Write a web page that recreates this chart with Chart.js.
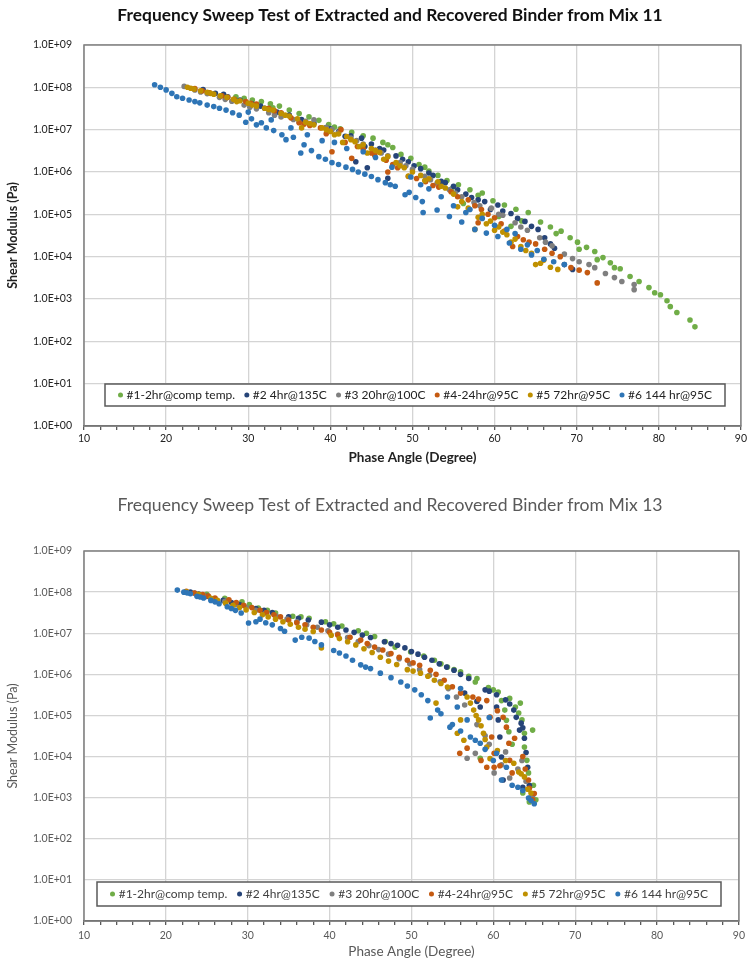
<!DOCTYPE html>
<html>
<head>
<meta charset="utf-8">
<title>Frequency Sweep Test</title>
<script src="https://cdn.jsdelivr.net/npm/chart.js@4.4.0/dist/chart.umd.min.js"></script>
<style>
  body { margin: 0; background: #fff; }
  .wrap { position: absolute; left: 0; width: 749px; }
  #wrap11 { top: 0; height: 475px; }
  #wrap13 { top: 480px; height: 484px; }
</style>
</head>
<body>
<div class="wrap" id="wrap11"><canvas id="mix11Chart" width="749" height="475"></canvas></div>
<div class="wrap" id="wrap13"><canvas id="mix13Chart" width="749" height="484"></canvas></div>
<script>
// Series names (same for both mixes)
const seriesLabels = ['#1-2hr@comp temp.', '#2 4hr@135C', '#3 20hr@100C', '#4-24hr@95C', '#5 72hr@95C', '#6 144 hr@95C'];

// Axis ticks
const yTicks = [1e0, 1e1, 1e2, 1e3, 1e4, 1e5, 1e6, 1e7, 1e8, 1e9];
const yTickLabels = ['1.0E+00', '1.0E+01', '1.0E+02', '1.0E+03', '1.0E+04', '1.0E+05', '1.0E+06', '1.0E+07', '1.0E+08', '1.0E+09'];
const xMajorTicks = [10, 20, 30, 40, 50, 60, 70, 80, 90];

// ---- Mix 11: phase angle (deg) / shear modulus (Pa) ----
const mix11_s1_x = [28.5, 29.5, 30.5, 31.6, 32.7, 33.8, 35.0, 36.2, 37.4, 38.6, 39.8, 41.2, 42.6, 44.0, 45.2, 46.4, 47.6, 48.6, 49.8, 50.8, 52.0, 53.1, 54.2, 55.6, 56.2, 57.0, 58.5, 59.8, 60.5, 61.2, 62.0, 62.6, 64.1, 65.6, 66.8, 68.1, 69.2, 70.1, 70.3, 71.2, 72.2, 72.5, 73.2, 74.1, 74.6, 75.3, 76.5, 77.6, 78.8, 79.5, 80.2, 81.0, 81.4, 82.2, 83.8, 84.4, 33.0, 40.5, 47.0, 51.5, 54.8, 58.0, 63.3, 67.5];
const mix11_s1_y = [6.0e7, 5.5e7, 5.0e7, 4.6e7, 4.1e7, 3.6e7, 2.9e7, 2.4e7, 2.0e7, 1.66e7, 1.32e7, 1.05e7, 8.7e6, 7.2e6, 6.3e6, 5.0e6, 3.8e6, 2.6e6, 2.1e6, 1.5e6, 1.05e6, 8.3e5, 6.3e5, 5.0e5, 1.8e5, 3.8e5, 3.2e5, 2.1e5, 8.9e4, 1.66e5, 5.2e4, 1.32e5, 1.1e5, 6.6e4, 5.0e4, 4.0e4, 2.8e4, 2.2e4, 1.5e4, 1.66e4, 1.32e4, 8.5e3, 9.5e3, 7.2e3, 5.5e3, 5.2e3, 3.4e3, 2.6e3, 1.86e3, 1.4e3, 1.26e3, 9.1e2, 6.6e2, 4.8e2, 3.2e2, 2.2e2, 3.3e7, 1.15e7, 4.4e6, 1.3e6, 4.0e5, 2.8e5, 7.0e4, 3.5e4];

const mix11_s2_x = [24.5, 26.0, 27.5, 29.0, 30.5, 32.0, 33.5, 35.0, 36.5, 38.0, 39.5, 41.0, 42.5, 43.8, 45.0, 46.5, 48.0, 49.5, 51.0, 52.5, 54.0, 55.5, 57.2, 58.8, 60.4, 62.0, 63.7, 65.3, 66.1, 67.3, 68.5, 69.5, 43.1, 44.5, 47.0, 27.0, 31.5, 34.0, 37.0, 40.0, 41.8, 44.2, 46.0, 48.8, 50.2, 52.0, 53.5, 55.0, 56.5, 58.0, 59.5, 61.0, 62.8, 64.5, 66.8];
const mix11_s2_y = [8.9e7, 7.2e7, 6.0e7, 5.0e7, 4.0e7, 3.2e7, 2.6e7, 2.2e7, 1.74e7, 1.41e7, 1.12e7, 8.9e6, 7.2e6, 6.3e6, 4.6e6, 3.3e6, 2.4e6, 1.74e6, 1.2e6, 8.3e5, 5.6e5, 3.8e5, 2.5e5, 2.0e5, 1.66e5, 1.05e5, 6.8e4, 4.4e4, 2.8e4, 1.58e4, 6.5e3, 5.0e3, 1.74e6, 1.26e6, 7.1e5, 6.8e7, 3.6e7, 2.4e7, 1.5e7, 1.05e7, 7.0e6, 4.0e6, 3.6e6, 2.0e6, 1.4e6, 9.5e5, 6.0e5, 4.6e5, 3.0e5, 2.2e5, 1.3e5, 1.2e5, 8.0e4, 5.2e4, 2.0e4];

const mix11_s3_x = [22.2, 23.5, 25.0, 26.5, 28.0, 29.5, 31.0, 32.5, 34.0, 35.5, 37.0, 38.0, 39.5, 41.0, 42.5, 44.0, 45.5, 47.0, 48.5, 50.0, 51.5, 53.0, 54.5, 56.0, 57.5, 59.6, 61.0, 62.5, 64.0, 65.5, 67.0, 68.5, 70.3, 72.2, 73.5, 74.6, 77.0, 77.0, 24.2, 27.2, 30.2, 33.2, 36.2, 40.2, 43.2, 46.2, 49.2, 52.2, 55.2, 58.2, 60.5, 63.2, 66.2, 69.5, 71.5, 75.5];
const mix11_s3_y = [1.05e8, 8.7e7, 7.1e7, 5.8e7, 4.7e7, 3.8e7, 3.1e7, 2.5e7, 2.0e7, 1.74e7, 1.58e7, 1.7e7, 1.12e7, 8.5e6, 6.3e6, 4.6e6, 3.3e6, 2.4e6, 1.66e6, 1.15e6, 7.9e5, 5.5e5, 3.8e5, 2.6e5, 1.9e5, 1.4e5, 9.5e4, 6.3e4, 4.2e4, 2.8e4, 1.8e4, 1.15e4, 7.6e3, 5.5e3, 4.0e3, 3.2e3, 2.2e3, 1.66e3, 7.8e7, 5.2e7, 3.4e7, 2.2e7, 1.5e7, 1.0e7, 5.5e6, 2.8e6, 1.4e6, 6.6e5, 3.2e5, 1.6e5, 1.0e5, 5.0e4, 2.2e4, 9.0e3, 6.5e3, 2.6e3];

const mix11_s4_x = [23.5, 25.3, 26.8, 28.3, 29.7, 31.0, 32.5, 34.0, 35.2, 36.2, 37.5, 38.8, 40.2, 41.3, 42.6, 44.0, 45.4, 46.8, 48.2, 49.5, 51.6, 53.2, 54.7, 56.8, 58.4, 60.0, 61.2, 62.2, 63.5, 65.0, 66.1, 68.0, 69.3, 71.3, 72.5, 47.0, 58.0, 24.4, 27.5, 30.3, 33.2, 36.8, 39.5, 41.8, 43.3, 45.0, 47.6, 50.5, 52.5, 55.5, 57.6, 59.2, 60.8, 62.8, 64.2, 67.0, 70.3];
const mix11_s4_y = [9.3e7, 7.4e7, 6.3e7, 5.2e7, 4.6e7, 4.0e7, 3.2e7, 2.5e7, 1.9e7, 1.45e7, 1.26e7, 1.1e7, 3.0e6, 1.0e7, 2.1e6, 3.5e6, 2.5e6, 1.9e6, 1.26e6, 7.8e5, 5.9e5, 4.4e5, 3.4e5, 2.2e5, 1.3e5, 8.3e4, 4.0e4, 1.74e4, 2.5e4, 2.0e4, 1.5e4, 1.0e4, 5.5e3, 4.2e3, 2.4e3, 1.0e6, 6.3e4, 8.3e7, 5.8e7, 4.2e7, 2.8e7, 1.35e7, 8.0e6, 5.0e6, 4.0e6, 2.8e6, 1.5e6, 7.0e5, 4.8e5, 2.6e5, 1.6e5, 1.0e5, 6.0e4, 3.0e4, 2.2e4, 1.2e4, 4.8e3];

const mix11_s5_x = [22.6, 23.4, 24.2, 25.0, 25.8, 26.6, 27.4, 28.2, 29.0, 30.0, 31.0, 32.0, 33.0, 34.0, 35.0, 36.0, 37.0, 38.0, 39.0, 40.0, 41.0, 42.0, 43.0, 44.0, 45.0, 46.0, 47.0, 48.0, 49.0, 50.0, 51.0, 52.0, 53.1, 54.0, 55.0, 56.0, 57.6, 58.5, 59.5, 60.5, 61.5, 63.2, 64.5, 66.0, 67.7, 36.5, 41.5, 44.5, 49.5, 55.5, 59.0, 62.0, 65.0, 23.0, 25.4, 28.6, 30.5, 32.5, 34.5, 37.5, 39.5, 40.5, 42.5, 43.5, 45.5, 46.5, 48.5, 51.5, 53.5, 56.8, 58.0, 60.0, 61.0, 62.5, 63.8, 65.6, 66.8];
const mix11_s5_y = [1.0e8, 9.1e7, 8.3e7, 7.6e7, 6.9e7, 6.3e7, 5.8e7, 5.2e7, 4.8e7, 4.2e7, 3.6e7, 3.2e7, 2.9e7, 2.4e7, 2.1e7, 1.8e7, 1.5e7, 1.3e7, 1.1e7, 9.1e6, 7.9e6, 6.9e6, 5.2e6, 4.4e6, 3.6e6, 2.9e6, 2.3e6, 1.66e6, 1.26e6, 1.0e6, 8.3e5, 6.9e5, 5.9e5, 4.2e5, 3.0e5, 2.0e5, 4.4e4, 1.0e5, 6.9e4, 5.0e4, 3.3e4, 1.74e4, 1.2e4, 8.3e3, 5.0e3, 1.1e7, 5.0e6, 2.8e6, 8.0e5, 1.5e5, 6.0e4, 2.2e4, 6.5e3, 9.5e7, 7.2e7, 4.6e7, 3.8e7, 3.0e7, 2.2e7, 1.4e7, 1.0e7, 7.6e6, 5.8e6, 4.0e6, 3.2e6, 2.0e6, 1.4e6, 6.3e5, 4.6e5, 1.4e5, 8.5e4, 4.2e4, 3.8e4, 2.6e4, 1.4e4, 7.0e3, 5.6e3];

const mix11_s6_x = [18.6, 19.3, 20.0, 20.7, 21.3, 22.0, 22.8, 23.5, 24.1, 25.0, 25.8, 26.5, 27.3, 28.1, 28.9, 29.7, 30.4, 31.0, 31.6, 32.2, 33.1, 34.1, 34.6, 35.5, 36.4, 36.8, 37.7, 38.6, 39.4, 40.2, 41.0, 41.9, 42.7, 43.4, 44.2, 45.0, 45.8, 46.7, 47.3, 47.9, 49.1, 49.6, 50.4, 51.2, 51.3, 53.0, 54.5, 56.0, 57.6, 59.0, 60.4, 61.8, 63.2, 64.5, 66.0, 67.2, 68.5, 40.5, 44.0, 52.0, 55.0, 58.5, 62.5, 30.0, 32.8, 35.2, 37.2, 39.0, 42.0, 45.5, 47.5, 49.8, 51.0, 53.5, 56.5, 57.0, 60.0, 61.5, 64.0, 65.2];
const mix11_s6_y = [1.15e8, 1.0e8, 8.7e7, 7.2e7, 6.0e7, 5.5e7, 5.0e7, 4.6e7, 4.3e7, 3.8e7, 3.5e7, 3.2e7, 2.9e7, 2.5e7, 2.2e7, 1.5e7, 1.8e7, 1.3e7, 1.45e7, 1.1e7, 9.5e6, 7.6e6, 5.8e6, 6.6e6, 2.8e6, 4.4e6, 3.2e6, 2.3e6, 2.0e6, 1.66e6, 1.5e6, 1.3e6, 1.15e6, 1.0e6, 8.9e5, 7.8e5, 6.6e5, 5.6e5, 5.0e5, 4.6e5, 2.9e5, 3.3e5, 2.5e5, 2.0e5, 1.1e5, 1.26e5, 8.9e4, 6.6e4, 4.4e4, 3.6e4, 3.0e4, 2.1e4, 1.5e4, 1.1e4, 8.7e3, 7.6e3, 6.5e3, 5.0e6, 3.0e6, 4.0e5, 1.6e5, 8.0e4, 3.5e4, 2.6e7, 1.7e7, 1.1e7, 7.6e6, 5.5e6, 3.6e6, 2.2e6, 1.3e6, 7.6e5, 5.0e5, 2.6e5, 1.1e5, 1.3e5, 5.5e4, 4.4e4, 1.9e4, 1.4e4];

// ---- Mix 13 ----
const mix13_s1_x = [25.0, 27.2, 29.3, 31.3, 33.4, 35.5, 37.5, 39.5, 41.5, 43.5, 45.5, 48.0, 49.9, 51.5, 52.8, 54.4, 56.0, 57.8, 58.0, 59.4, 60.6, 61.0, 61.4, 61.6, 61.9, 62.3, 63.1, 63.5, 63.8, 63.8, 64.1, 64.3, 64.8, 64.4, 63.6, 58.4, 64.9, 65.2, 30.2, 32.4, 36.5, 40.5, 44.5, 46.8, 53.6, 55.2, 57.0, 60.0, 62.0, 62.7, 63.3];
const mix13_s1_y = [8.9e7, 7.1e7, 5.8e7, 4.1e7, 3.1e7, 2.6e7, 2.3e7, 1.9e7, 1.5e7, 1.15e7, 8.3e6, 4.6e6, 3.5e6, 2.8e6, 2.2e6, 1.5e6, 1.15e6, 6.5e5, 7.9e5, 4.8e5, 3.7e5, 2.3e5, 1.35e5, 7.6e4, 4.0e4, 2.0e4, 1.15e5, 7.8e4, 3.7e4, 1.7e4, 8.1e3, 4.0e3, 4.4e4, 7.9e2, 1.3e3, 9.1e3, 2.0e3, 8.9e2, 5.0e7, 3.6e7, 2.5e7, 1.7e7, 1.0e7, 6.3e6, 1.8e6, 1.3e6, 9.0e5, 4.2e5, 2.6e5, 1.6e5, 2.0e5];

const mix13_s2_x = [23.0, 25.0, 27.0, 29.0, 31.0, 33.0, 35.0, 37.4, 39.0, 41.0, 43.0, 45.0, 46.7, 48.3, 50.0, 51.6, 53.4, 55.2, 57.0, 58.4, 59.0, 60.4, 60.4, 60.6, 60.8, 61.0, 61.2, 62.5, 63.2, 63.6, 63.8, 64.0, 63.6, 64.4, 64.5, 56.5, 58.0, 24.0, 28.0, 32.0, 36.2, 40.0, 42.0, 44.0, 47.5, 49.2, 50.8, 52.5, 54.3, 56.0, 59.5, 61.5, 62.0, 62.8, 63.4, 64.2];
const mix13_s2_y = [1.0e8, 7.9e7, 6.3e7, 5.0e7, 4.0e7, 3.2e7, 2.5e7, 2.1e7, 1.86e7, 1.4e7, 1.05e7, 7.9e6, 6.2e6, 5.1e6, 3.6e6, 2.6e6, 1.8e6, 1.26e6, 7.9e5, 1.6e5, 4.2e5, 3.2e5, 1.6e5, 7.8e4, 3.0e4, 9.8e3, 2.7e3, 1.35e5, 4.4e4, 5.0e4, 2.8e4, 1.26e4, 1.8e3, 2.0e3, 9.8e2, 3.5e5, 2.2e5, 9.0e7, 5.6e7, 3.6e7, 2.3e7, 1.6e7, 1.2e7, 9.0e6, 5.6e6, 4.4e6, 3.1e6, 2.2e6, 1.5e6, 1.0e6, 3.9e5, 2.4e5, 1.9e5, 9.0e4, 6.5e4, 5.5e3];

const mix13_s3_x = [23.5, 26.0, 28.5, 31.0, 33.5, 36.0, 38.5, 41.0, 43.5, 46.0, 48.5, 51.0, 53.5, 55.5, 56.8, 57.8, 59.0, 60.1, 61.0, 62.0, 63.0, 64.0, 64.8, 24.8, 27.2, 29.8, 32.2, 34.8, 37.2, 39.8, 42.2, 44.8, 47.2, 49.8, 52.2, 54.5, 56.5, 58.0, 59.5, 61.5, 63.5];
const mix13_s3_y = [9.5e7, 6.9e7, 5.0e7, 3.6e7, 2.6e7, 1.9e7, 1.4e7, 9.5e6, 6.3e6, 4.0e6, 2.4e6, 1.3e6, 6.6e5, 2.8e5, 9.1e3, 1.2e4, 3.2e4, 4.0e3, 6.3e3, 3.0e3, 5.0e3, 2.5e3, 1.1e3, 8.0e7, 6.0e7, 4.3e7, 3.1e7, 2.2e7, 1.6e7, 1.15e7, 7.8e6, 5.0e6, 3.1e6, 1.8e6, 9.5e5, 4.5e5, 1.8e5, 6.0e4, 2.0e4, 1.3e4, 8.0e3];

const mix13_s4_x = [22.5, 24.5, 26.0, 27.7, 29.5, 31.5, 33.2, 35.0, 37.0, 39.0, 41.0, 43.8, 45.5, 47.5, 49.5, 51.0, 52.3, 54.0, 56.0, 57.5, 59.2, 59.6, 59.8, 60.1, 60.1, 59.2, 61.6, 61.9, 62.0, 62.3, 55.9, 56.8, 64.4, 64.3, 65.0, 64.8, 23.5, 25.2, 28.6, 30.5, 32.3, 34.0, 36.0, 38.0, 40.0, 42.5, 44.6, 46.5, 48.5, 50.2, 53.0, 55.0, 58.2, 60.5, 61.2, 62.6, 63.6, 63.9, 58.5, 60.8];
const mix13_s4_y = [1.05e8, 8.7e7, 7.2e7, 6.5e7, 4.8e7, 3.6e7, 2.8e7, 2.1e7, 1.6e7, 1.2e7, 9.1e6, 6.8e6, 4.6e6, 3.2e6, 2.2e6, 1.66e6, 1.26e6, 7.2e5, 3.5e5, 2.8e5, 2.3e5, 9.1e4, 3.0e4, 1.2e4, 5.5e3, 5.5e3, 5.2e4, 2.1e4, 8.1e3, 4.0e3, 1.2e4, 1.6e4, 1.7e3, 2.7e3, 1.26e3, 8.9e2, 9.5e7, 8.0e7, 5.6e7, 4.2e7, 3.2e7, 2.5e7, 1.8e7, 1.4e7, 1.05e7, 8.0e6, 5.6e6, 3.9e6, 2.6e6, 1.9e6, 1.0e6, 5.0e5, 2.5e5, 1.3e5, 9.0e4, 2.8e4, 1.0e4, 5.0e3, 8.0e3, 6.0e3];

const mix13_s5_x = [24.0, 25.5, 27.3, 29.0, 30.8, 32.5, 34.3, 36.2, 38.0, 39.0, 40.2, 42.2, 44.2, 46.2, 48.2, 49.5, 51.1, 52.8, 54.4, 55.6, 56.0, 56.4, 56.8, 57.6, 58.2, 58.8, 59.2, 59.6, 62.5, 63.1, 63.8, 64.2, 53.0, 22.5, 26.3, 28.2, 29.8, 31.8, 33.4, 35.2, 37.0, 41.2, 43.2, 45.2, 47.2, 50.2, 52.0, 53.6, 57.2, 57.9, 58.5, 59.0, 60.5, 61.5, 63.4, 64.6];
const mix13_s5_y = [8.9e7, 7.1e7, 5.4e7, 4.2e7, 3.2e7, 2.5e7, 1.9e7, 1.4e7, 1.1e7, 4.4e6, 8.9e6, 6.2e6, 4.2e6, 2.6e6, 1.74e6, 1.3e6, 1.07e6, 7.2e5, 4.9e5, 3.7e4, 7.8e4, 2.5e4, 2.8e5, 1.35e5, 7.8e4, 3.7e4, 1.7e4, 8.9e3, 6.9e3, 4.2e3, 3.2e3, 1.6e3, 2.0e5, 1.02e8, 6.3e7, 4.8e7, 3.7e7, 2.8e7, 2.2e7, 1.65e7, 1.25e7, 7.4e6, 5.2e6, 3.4e6, 2.1e6, 1.2e6, 9.0e5, 6.0e5, 2.0e5, 1.0e5, 5.6e4, 2.6e4, 1.4e4, 8.0e3, 3.8e3, 1.3e3];

const mix13_s6_x = [21.4, 22.2, 23.0, 23.8, 24.6, 25.5, 26.5, 27.5, 28.5, 30.1, 31.5, 33.0, 34.5, 35.8, 37.5, 39.0, 40.5, 42.0, 43.8, 45.0, 46.2, 47.5, 48.7, 49.5, 50.4, 51.2, 52.0, 52.3, 53.2, 54.4, 55.6, 56.8, 57.2, 54.7, 58.4, 60.4, 61.6, 61.0, 63.6, 64.3, 65.0, 56.0, 59.5, 22.6, 24.2, 26.0, 28.0, 29.2, 31.0, 32.2, 34.0, 36.6, 38.2, 41.2, 42.8, 44.4, 53.6, 55.0, 56.0, 57.8, 59.0, 60.0, 62.3, 63.0, 64.6];
const mix13_s6_y = [1.12e8, 1.0e8, 9.1e7, 7.9e7, 7.2e7, 6.3e7, 5.2e7, 4.4e7, 3.6e7, 1.78e7, 2.2e7, 1.6e7, 1.12e7, 6.8e6, 7.6e6, 5.2e6, 3.8e6, 2.8e6, 1.7e6, 1.38e6, 1.07e6, 8.3e5, 6.5e5, 5.2e5, 4.2e5, 3.2e5, 2.3e5, 8.7e4, 1.35e5, 2.8e5, 1.6e5, 7.8e4, 3.0e4, 5.2e4, 2.1e4, 1.2e4, 5.5e3, 2.7e3, 1.5e3, 9.8e2, 7.1e2, 4.5e5, 8.9e4, 9.6e7, 7.6e7, 5.8e7, 4.0e7, 3.1e7, 1.9e7, 1.8e7, 1.3e7, 8.0e6, 6.3e6, 3.3e6, 2.2e6, 1.5e6, 1.1e5, 6.0e4, 4.2e4, 2.5e4, 1.5e4, 8.0e3, 2.0e3, 1.8e3, 8.5e2];

// Marker colours for #1..#6
const seriesColors = ['#70ad47', '#264478', '#7f7f7f', '#c55a11', '#bf9000', '#2e75b6'];

function toPoints(xs, ys) {
  return xs.map((x, i) => ({ x: x, y: ys[i] }));
}

function buildDatasets(pairs) {
  return pairs.map((p, i) => ({
    label: seriesLabels[i],
    data: toPoints(p[0], p[1]),
    backgroundColor: seriesColors[i],
    borderWidth: 0,
    pointRadius: 2.8,
    // later series on top, as in the spreadsheet
    order: pairs.length - i
  }));
}

/**
 * Centre the chart title over the plot area instead of the whole canvas
 */
const titleShiftPlugin = {
  id: 'titleShift',
  afterLayout(chart, args, opts) {
    if (chart.titleBlock) chart.titleBlock.left = opts.left;
  }
};

/**
 * Plot frame + legend box drawn inside the plot area
 */
const frameLegendPlugin = {
  id: 'frameLegend',
  afterDatasetsDraw(chart, args, opts) {
    const { ctx, chartArea: a } = chart;
    ctx.save();

    // legend box
    const top = a.bottom - opts.boxBottom - opts.boxHeight;
    const w = opts.boxRight - opts.boxLeft;
    ctx.fillStyle = '#ffffff';
    ctx.fillRect(opts.boxLeft, top, w, opts.boxHeight);
    ctx.strokeStyle = opts.boxColor;
    ctx.lineWidth = 1.5;
    ctx.strokeRect(opts.boxLeft, top, w, opts.boxHeight);

    ctx.font = opts.font;
    ctx.textBaseline = 'middle';
    ctx.textAlign = 'left';
    const sets = chart.data.datasets;
    const widths = sets.map(d => ctx.measureText(d.label).width);
    const used = widths.reduce((s, tw) => s + tw + opts.markerGap, 0);
    const gap = (w - 2 * opts.pad - used) / (sets.length - 1);
    const cy = top + opts.boxHeight / 2;
    let x = opts.boxLeft + opts.pad;
    sets.forEach((d, i) => {
      ctx.fillStyle = d.backgroundColor;
      ctx.beginPath();
      ctx.arc(x + 2.5, cy, 2.5, 0, Math.PI * 2);
      ctx.fill();
      ctx.fillStyle = opts.textColor;
      ctx.fillText(d.label, x + opts.markerGap, cy + 0.5);
      x += opts.markerGap + widths[i] + gap;
    });

    // plot frame
    ctx.strokeStyle = opts.frameColor;
    ctx.lineWidth = 1.5;
    ctx.strokeRect(a.left, a.top, a.right - a.left, a.bottom - a.top);
    ctx.restore();
  }
};

function makeChart(canvasId, title, pairs, look) {
  const ctx = document.getElementById(canvasId).getContext('2d');
  return new Chart(ctx, {
    type: 'scatter',
    data: { datasets: buildDatasets(pairs) },
    plugins: [titleShiftPlugin, frameLegendPlugin],
    options: {
      responsive: false,
      animation: false,
      layout: { padding: { left: 0, right: 5, top: 0, bottom: 0 } },
      plugins: {
        legend: { display: false },
        tooltip: { enabled: false },
        title: {
          display: true,
          text: title,
          color: look.titleColor,
          font: { family: 'Lato', size: look.titleSize, weight: look.titleWeight },
          padding: look.titlePadding
        },
        titleShift: { left: 36 },
        frameLegend: look.legend
      },
      scales: {
        x: {
          type: 'linear',
          min: 10,
          max: 90,
          afterFit: (s) => { s.height = look.xHeight; },
          ticks: {
            stepSize: 2,
            autoSkip: false,
            maxRotation: 0,
            padding: look.xTickPad,
            color: look.tickColor,
            font: { family: 'Lato', size: 10.5 },
            callback: (v) => xMajorTicks.includes(v) ? String(v) : ''
          },
          grid: {
            color: (c) => (c.tick && xMajorTicks.includes(c.tick.value)) ? '#d4d4d4' : 'rgba(0,0,0,0)',
            lineWidth: 1.3,
            tickColor: '#595959',
            tickLength: 4
          },
          border: { display: true, color: '#595959', width: 1.5 },
          title: {
            display: true,
            text: 'Phase Angle (Degree)',
            color: look.axisTitleColor,
            font: { family: 'Lato', size: 13.5, weight: look.axisTitleWeight },
            padding: { top: 0, bottom: look.xTitlePad }
          }
        },
        y: {
          type: 'logarithmic',
          min: 1,
          max: 1e9,
          afterFit: (s) => { s.width = 84; },
          afterBuildTicks: (s) => { s.ticks = yTicks.map(v => ({ value: v })); },
          ticks: {
            autoSkip: false,
            padding: 12,
            color: look.tickColor,
            font: { family: 'Lato', size: 10.5 },
            callback: (v, i) => yTickLabels[i]
          },
          grid: { color: '#d4d4d4', lineWidth: 1.3, drawTicks: false },
          border: { display: false },
          title: {
            display: true,
            text: 'Shear Modulus (Pa)',
            color: look.axisTitleColor,
            font: { family: 'Lato', size: 12.5, weight: look.axisTitleWeight },
            padding: { top: 5, bottom: 0 }
          }
        }
      }
    }
  });
}

makeChart('mix11Chart', 'Frequency Sweep Test of Extracted and Recovered Binder from Mix 11', [
  [mix11_s1_x, mix11_s1_y], [mix11_s2_x, mix11_s2_y], [mix11_s3_x, mix11_s3_y],
  [mix11_s4_x, mix11_s4_y], [mix11_s5_x, mix11_s5_y], [mix11_s6_x, mix11_s6_y]
], {
  titleColor: '#111', titleSize: 17.4, titleWeight: 'bold', titlePadding: { top: 4.6, bottom: 19.5 },
  tickColor: '#222', axisTitleColor: '#222', axisTitleWeight: 'bold',
  xHeight: 49, xTickPad: 2, xTitlePad: 9,
  legend: { boxLeft: 105, boxRight: 725, boxHeight: 22, boxBottom: 20, pad: 13, markerGap: 8.5,
            font: '12px Lato', textColor: '#222', boxColor: '#595959', frameColor: '#7f7f7f' }
});

makeChart('mix13Chart', 'Frequency Sweep Test of Extracted and Recovered Binder from Mix 13', [
  [mix13_s1_x, mix13_s1_y], [mix13_s2_x, mix13_s2_y], [mix13_s3_x, mix13_s3_y],
  [mix13_s4_x, mix13_s4_y], [mix13_s5_x, mix13_s5_y], [mix13_s6_x, mix13_s6_y]
], {
  titleColor: '#595959', titleSize: 17.6, titleWeight: 'normal', titlePadding: { top: 14.4, bottom: 35.5 },
  tickColor: '#595959', axisTitleColor: '#595959', axisTitleWeight: 'normal',
  xHeight: 43, xTickPad: 4, xTitlePad: 4,
  legend: { boxLeft: 97, boxRight: 721, boxHeight: 24, boxBottom: 15, pad: 13, markerGap: 8.7,
            font: '12px Lato', textColor: '#404040', boxColor: '#595959', frameColor: '#7f7f7f' }
});
</script>
</body>
</html>
